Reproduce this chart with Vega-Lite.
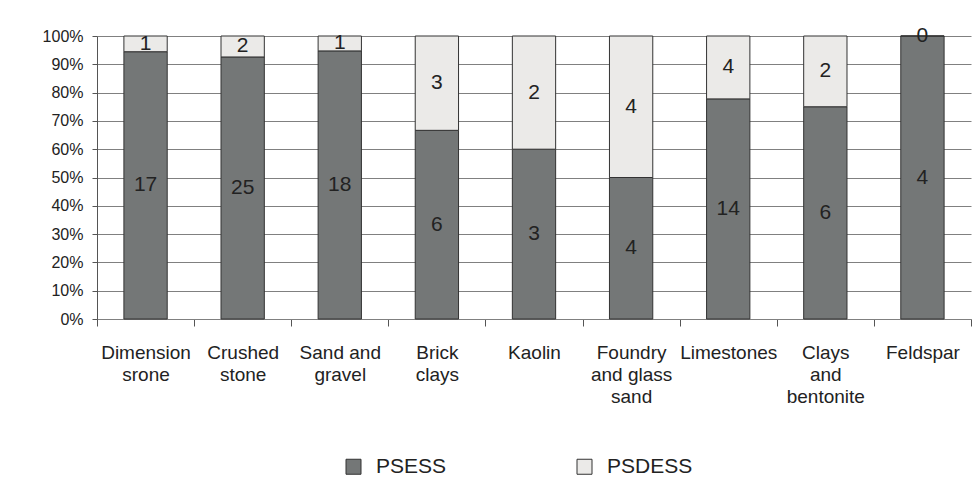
{
  "$schema": "https://vega.github.io/schema/vega-lite/v6.json",
  "autosize": {"type": "none"},
  "width": 874,
  "height": 283,
  "padding": {"left": 97, "top": 36, "right": 8, "bottom": 163},
  "background": "white",
  "config": {
    "view": {"stroke": null},
    "font": "Liberation Sans",
    "axisY": {
      "title": null, "format": ".0%", "labelOverlap": false,
      "grid": true, "gridColor": "#808080", "gridWidth": 1,
      "domainColor": "#555555", "tickColor": "#555555", "tickSize": 5,
      "labelPadding": 9, "labelFontSize": 16, "labelColor": "#222222"
    }
  },
  "data": {
    "values": [
      {"category": "Dimension srone", "series": "PSESS", "count": 17},
      {"category": "Dimension srone", "series": "PSDESS", "count": 1},
      {"category": "Crushed stone", "series": "PSESS", "count": 25},
      {"category": "Crushed stone", "series": "PSDESS", "count": 2},
      {"category": "Sand and gravel", "series": "PSESS", "count": 18},
      {"category": "Sand and gravel", "series": "PSDESS", "count": 1},
      {"category": "Brick clays", "series": "PSESS", "count": 6},
      {"category": "Brick clays", "series": "PSDESS", "count": 3},
      {"category": "Kaolin", "series": "PSESS", "count": 3},
      {"category": "Kaolin", "series": "PSDESS", "count": 2},
      {"category": "Foundry and glass sand", "series": "PSESS", "count": 4},
      {"category": "Foundry and glass sand", "series": "PSDESS", "count": 4},
      {"category": "Limestones", "series": "PSESS", "count": 14},
      {"category": "Limestones", "series": "PSDESS", "count": 4},
      {"category": "Clays and bentonite", "series": "PSESS", "count": 6},
      {"category": "Clays and bentonite", "series": "PSDESS", "count": 2},
      {"category": "Feldspar", "series": "PSESS", "count": 4},
      {"category": "Feldspar", "series": "PSDESS", "count": 0}
    ]
  },
  "transform": [
    {"stack": "count", "groupby": ["category"], "sort": [{"field": "series", "order": "descending"}], "offset": "normalize", "as": ["y0", "y1"]},
    {"calculate": "(datum.y0 + datum.y1) / 2", "as": "ymid"}
  ],
  "layer": [
    {
      "mark": {"type": "bar", "stroke": "#333333", "strokeWidth": 1, "width": {"band": 0.446}},
      "encoding": {
        "x": {
          "field": "category", "type": "nominal", "sort": null,
          "scale": {"paddingInner": 0, "paddingOuter": 0},
          "axis": {
            "title": null, "labelAngle": 0, "tickBand": "extent", "tickSize": 7,
            "tickColor": "#555555", "domainColor": "#808080",
            "labelFontSize": 19, "labelColor": "#222222", "labelLineHeight": 22,
            "labelPadding": 17, "labelBaseline": "top",
            "labelExpr": "{'Dimension srone':['Dimension','srone'],'Crushed stone':['Crushed','stone'],'Sand and gravel':['Sand and','gravel'],'Brick clays':['Brick','clays'],'Foundry and glass sand':['Foundry','and glass','sand'],'Clays and bentonite':['Clays','and','bentonite']}[datum.value] || datum.value"
          }
        },
        "y": {
          "field": "y0", "type": "quantitative",
          "scale": {"domain": [0, 1]},
          "axis": {"values": [0, 0.1, 0.2, 0.3, 0.4, 0.5, 0.6, 0.7, 0.8, 0.9, 1], "tickCount": 20}
        },
        "y2": {"field": "y1"},
        "color": {
          "field": "series", "type": "nominal",
          "scale": {"domain": ["PSESS", "PSDESS"], "range": ["#747777", "#ebeae8"]},
          "legend": {
            "title": null, "orient": "none", "direction": "horizontal",
            "legendX": 246, "legendY": 420,
            "symbolType": "square", "symbolSize": 225, "symbolStrokeColor": "#333333", "symbolStrokeWidth": 1,
            "labelFontSize": 21, "labelColor": "#222222", "labelOffset": 12,
            "columnPadding": 127
          }
        }
      }
    },
    {
      "mark": {"type": "text", "fontSize": 21, "color": "#222222", "baseline": "middle"},
      "encoding": {
        "x": {"field": "category", "type": "nominal", "sort": null},
        "y": {"field": "ymid", "type": "quantitative", "axis": {"values": [0, 0.1, 0.2, 0.3, 0.4, 0.5, 0.6, 0.7, 0.8, 0.9, 1], "tickCount": 20}},
        "text": {"field": "count", "type": "quantitative"}
      }
    }
  ]
}
